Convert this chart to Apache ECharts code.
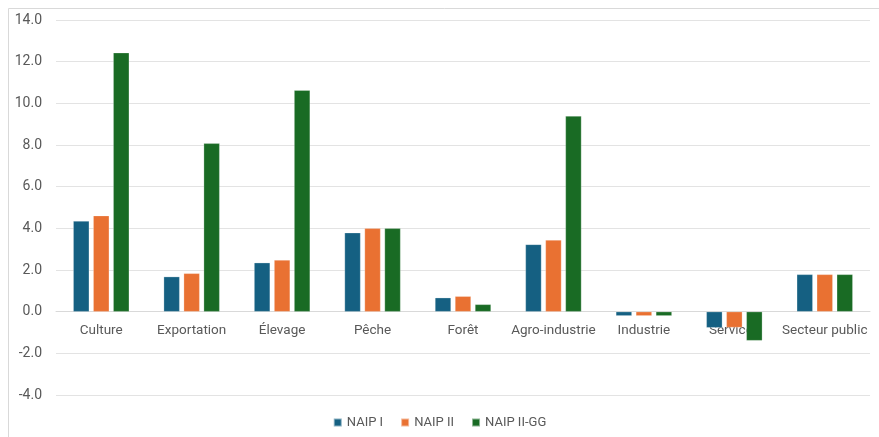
<!DOCTYPE html>
<html>
<head>
<meta charset="utf-8">
<script src="https://cdn.jsdelivr.net/npm/echarts@6/dist/echarts.min.js"></script>
<style>
  html,body{margin:0;padding:0;background:#fff;}
  #main{width:879px;height:437px;}
</style>
</head>
<body>
<div id="main"></div>
<script>
const categories=['Culture','Exportation','Élevage','Pêche','Forêt','Agro-industrie','Industrie','Services','Secteur public'];
const naip1=[4.35,1.68,2.35,3.79,0.67,3.23,-0.2,-0.77,1.79];
const naip2=[4.61,1.84,2.48,4.0,0.74,3.44,-0.2,-0.76,1.79];
const naip2gg=[12.43,8.08,10.63,4.0,0.35,9.39,-0.2,-1.39,1.79];
const seriesNames=['NAIP I','NAIP II','NAIP II-GG'];
const colors=['#156082','#E97132','#196B24'];

const chart=echarts.init(document.getElementById('main'),null,{renderer:'canvas'});
const font='Roboto, "Open Sans", sans-serif';

const yMin=-4,yMax=14;
const gridTop=20,gridBottom=42,chartH=437;
// the category axis sits on the zero line, so move it up from the bottom of the grid
const zeroOffset=-(chartH-gridTop-gridBottom)*(0-yMin)/(yMax-yMin);

let option={
  animation:false,
  textStyle:{fontFamily:font},
  graphic:[{
    type:'rect',
    left:6,top:6,
    shape:{width:900,height:460},
    style:{fill:'none',stroke:'#d9d9d9',lineWidth:1},
    silent:true,
    z:-10
  }],
  legend:{
    data:seriesNames,
    bottom:3,
    left:'center',
    itemWidth:8,
    itemHeight:8,
    itemGap:17,
    icon:'rect',
    textStyle:{color:'#595959',fontSize:13,fontFamily:font}
  },
  grid:{
    left:56,
    right:9,
    top:gridTop,
    bottom:gridBottom
  },
  xAxis:{
    type:'category',
    data:categories,
    position:'bottom',
    offset:zeroOffset,
    axisLine:{onZero:false,lineStyle:{color:'#d9d9d9',width:1}},
    axisTick:{show:false},
    axisLabel:{color:'#595959',fontSize:13.5,margin:12,interval:0,fontFamily:font}
  },
  yAxis:{
    type:'value',
    min:yMin,
    max:yMax,
    interval:2,
    axisLine:{show:false},
    axisTick:{show:false},
    splitLine:{lineStyle:{color:'#e3e3e3',width:1}},
    axisLabel:{
      color:'#595959',
      fontSize:14,
      margin:14,
      fontFamily:font,
      formatter:function(v){return v.toFixed(1);}
    }
  },
  series:[naip1,naip2,naip2gg].map(function(d,i){
    return {
      name:seriesNames[i],
      type:'bar',
      data:d,
      barWidth:16,
      barGap:'25%',
      itemStyle:{color:colors[i],borderColor:'rgba(255,255,255,0.5)',borderWidth:0.5}
    };
  })
};
chart.setOption(option);
</script>
</body>
</html>
